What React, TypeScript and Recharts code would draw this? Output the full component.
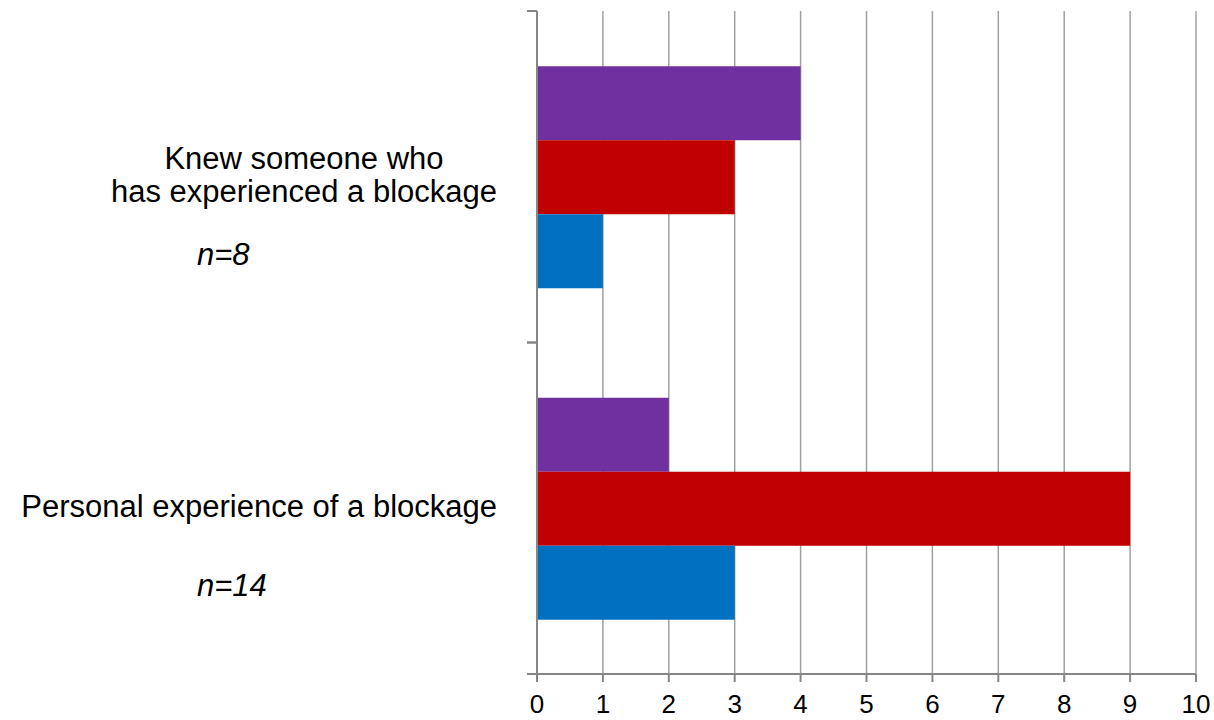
import { BarChart, Bar, XAxis, YAxis, CartesianGrid } from 'recharts';

const categories = ['knew', 'personal'];
const categoryLines = [
  ['Knew someone who', 'has experienced a blockage'],
  ['Personal experience of a blockage'],
];
const sampleSizes = ['n=8', 'n=14'];

const purpleValues = [4, 2];
const redValues = [3, 9];
const blueValues = [1, 3];

const xTicks = [0, 1, 2, 3, 4, 5, 6, 7, 8, 9, 10];

const data = categories.map((c, i) => ({
  name: c,
  purple: purpleValues[i],
  red: redValues[i],
  blue: blueValues[i],
}));

const FONT = '"Liberation Sans", Arial, sans-serif';
const LABEL_SIZE = 31;
const WIDTH = 1214;
const HEIGHT = 720;
const MARGIN = { top: 11, right: 18, left: 0, bottom: 0 };
const X_AXIS_H = 46;
const PLOT_H = HEIGHT - MARGIN.top - MARGIN.bottom - X_AXIS_H;

let ctx: CanvasRenderingContext2D | null = null;
function measure(text: string) {
  if (!ctx) {
    ctx = document.createElement('canvas').getContext('2d');
  }
  if (!ctx) return text.length * LABEL_SIZE * 0.5;
  ctx.font = `${LABEL_SIZE}px ${FONT}`;
  return ctx.measureText(text).width;
}

function CategoryTick(props: any) {
  const { x, y, index } = props;
  const lines = categoryLines[index] || [];
  const band = PLOT_H / categories.length;
  const right = x - 40;
  const maxW = Math.max(...lines.map(measure));
  const cx = right - maxW / 2;
  const n = lines.length;
  return (
    <g>
      <line x1={x - 10} x2={x} y1={y - band / 2} y2={y - band / 2} stroke="#868686" strokeWidth={2} />
      <line x1={x - 10} x2={x} y1={y + band / 2} y2={y + band / 2} stroke="#868686" strokeWidth={2} />
      {lines.map((line, i) => (
        <text
          key={i}
          x={cx}
          y={y + 9 + (i - (n - 1) / 2) * 33}
          textAnchor="middle"
          fontFamily={FONT}
          fontSize={LABEL_SIZE}
          fill="#000"
        >
          {line}
        </text>
      ))}
      <text
        x={x - 340}
        y={y + 88}
        textAnchor="start"
        fontFamily={FONT}
        fontSize={LABEL_SIZE}
        fontStyle="italic"
        fill="#000"
      >
        {sampleSizes[index]}
      </text>
    </g>
  );
}

export default function App() {
  return (
    <div style={{ position: 'absolute', left: 0, top: 0, width: WIDTH, height: HEIGHT, background: '#fff' }}>
      <BarChart
        width={WIDTH}
        height={HEIGHT}
        data={data}
        layout="vertical"
        margin={MARGIN}
        barCategoryGap="16.7%"
        barGap={0}
      >
        <CartesianGrid horizontal={false} stroke="#a0a0a0" strokeWidth={1.5} />
        <XAxis
          type="number"
          domain={[0, 10]}
          ticks={xTicks}
          interval={0}
          height={X_AXIS_H}
          axisLine={{ stroke: '#868686', strokeWidth: 2 }}
          tickLine={{ stroke: '#868686', strokeWidth: 2 }}
          tickSize={8}
          tickMargin={13}
          tick={{ fontSize: 26, fill: '#000', fontFamily: FONT }}
        />
        <YAxis
          type="category"
          dataKey="name"
          width={537}
          axisLine={{ stroke: '#868686', strokeWidth: 2 }}
          tickLine={false}
          tickSize={0}
          tickMargin={0}
          interval={0}
          tick={<CategoryTick />}
        />
        <Bar dataKey="purple" fill="#7030a0" isAnimationActive={false} />
        <Bar dataKey="red" fill="#c00000" isAnimationActive={false} />
        <Bar dataKey="blue" fill="#0070c0" isAnimationActive={false} />
      </BarChart>
    </div>
  );
}
